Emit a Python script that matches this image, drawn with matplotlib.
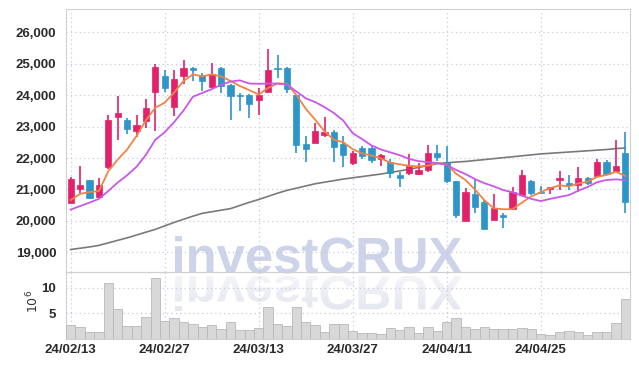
import matplotlib
matplotlib.use('Agg')
import matplotlib.pyplot as plt
import numpy as np
from matplotlib.textpath import TextPath
from matplotlib.patches import PathPatch
from matplotlib.font_manager import FontProperties
from matplotlib.transforms import Affine2D

# ---------------- data ----------------
tick_labels = ['24/02/13', '24/02/27', '24/03/13', '24/03/27', '24/04/11', '24/04/25']
tick_index = [0, 10, 20, 30, 40, 50]

opens = [20580, 21000, 21290, 20760, 21700, 23300, 23195, 22860, 23175, 24096,
         24595, 23632, 24610, 24860, 24640, 24260, 24850, 24330, 24010, 24000,
         23860, 24110, 24860, 24870, 24010, 22460, 22490, 22720, 22830, 22450,
         21855, 22330, 22330, 21970, 21880, 21460, 21530, 21490, 21620, 22170,
         21885, 21260, 20000, 20860, 20610, 20030, 20160, 20370, 20830, 21270,
         20930, 21010, 21290, 21210, 21140, 21350, 21440, 21870, 21590, 22150]
closes = [21320, 21130, 20720, 21130, 23210, 23430, 22920, 23060, 23580, 24890,
          24224, 24520, 24860, 24810, 24450, 24680, 24290, 23985, 23980, 23730,
          24000, 24790, 24830, 24200, 22400, 22280, 22860, 22830, 22345, 22080,
          22155, 22060, 21935, 22110, 21530, 21350, 21770, 21620, 22170, 22040,
          21260, 20175, 20915, 20450, 19740, 20400, 20150, 20930, 21460, 20900,
          20880, 21090, 21350, 21140, 21350, 21190, 21870, 21490, 21750, 20590]
highs = [21390, 21740, 21300, 21370, 23370, 23980, 23280, 23365, 23885, 24977,
         24796, 24796, 25124, 24900, 24690, 25025, 24880, 24360, 24070, 24050,
         24220, 25465, 25280, 24910, 24010, 22690, 23110, 23290, 22905, 22700,
         22220, 22380, 22380, 22130, 21960, 21560, 22120, 21830, 22400, 22400,
         22385, 21260, 21035, 21320, 20660, 20850, 20240, 21070, 21620, 21300,
         21100, 21090, 21580, 21460, 21700, 21400, 21960, 21940, 22570, 22840]
lows = [20560, 20890, 20700, 20735, 21640, 22570, 22750, 22675, 22940, 22845,
        24086, 23322, 24370, 24450, 24130, 24230, 24070, 23220, 23500, 23270,
        23370, 24105, 24550, 24070, 22160, 21870, 22480, 22680, 21870, 21720,
        21785, 21960, 21850, 21750, 21370, 21090, 21460, 21460, 21540, 21920,
        21200, 20100, 20000, 20240, 19740, 20030, 19760, 20350, 20830, 20830,
        20880, 20850, 20980, 20980, 20930, 21140, 21440, 21460, 21550, 20240]
volume_m = [2.71, 2.26, 1.29, 1.29, 10.85, 5.84, 2.46, 2.46, 4.21, 11.83,
            3.43, 4.02, 3.24, 2.85, 2.26, 2.65, 1.87, 3.2, 1.74, 1.74,
            2.07, 6.29, 2.97, 2.46, 6.29, 3.24, 2.65, 1.42, 2.97, 2.85,
            1.48, 1.22, 1.22, 1.02, 2.07, 1.68, 2.26, 1.09, 2.39, 1.5,
            3.37, 4.15, 2.39, 1.87, 2.39, 1.87, 1.87, 1.87, 2.07, 1.87,
            0.89, 0.7, 1.29, 1.48, 1.29, 0.7, 1.42, 1.29, 3.04, 7.73]
ma_short = [20660, 20860, 20915, 20950, 21580, 21950, 22270, 22700, 23200, 23600,
            23760, 24080, 24450, 24660, 24600, 24660, 24600, 24450, 24290, 24160,
            24020, 24230, 24370, 24360, 24010, 23570, 23220, 22850, 22580, 22500,
            22280, 22150, 22080, 21990, 21850, 21800, 21750, 21730, 21760, 21840,
            21800, 21500, 21300, 21000, 20660, 20400, 20370, 20370, 20580, 20780,
            20910, 21040, 21130, 21100, 21190, 21250, 21400, 21460, 21560, 21430]
ma_mid = [20360, 20470, 20580, 20700, 20950, 21220, 21450, 21720, 22100, 22580,
          22820, 23140, 23510, 23950, 24070, 24190, 24330, 24430, 24470, 24370,
          24360, 24370, 24370, 24340, 24120, 23900, 23780, 23620, 23430, 23190,
          22790, 22600, 22400, 22270, 22180, 22090, 21970, 21900, 21870, 21840,
          21780, 21620, 21490, 21330, 21200, 21100, 20980, 20910, 20800, 20700,
          20630, 20700, 20760, 20820, 20960, 21080, 21230, 21300, 21320, 21300]
ma_long = [19090, 19130, 19170, 19220, 19300, 19380, 19460, 19550, 19640, 19730,
           19840, 19950, 20050, 20150, 20240, 20290, 20340, 20390, 20490, 20590,
           20680, 20780, 20880, 20970, 21040, 21110, 21180, 21230, 21280, 21330,
           21370, 21410, 21450, 21490, 21540, 21590, 21640, 21700, 21760, 21820,
           21850, 21870, 21890, 21920, 21950, 21980, 22010, 22040, 22070, 22100,
           22130, 22150, 22170, 22190, 22210, 22230, 22250, 22270, 22300, 22320]
price_ticks = [19000, 20000, 21000, 22000, 23000, 24000, 25000, 26000]
vol_ticks = [5, 10]

# ---------------- style ----------------
UP = '#E3216B'
DOWN = '#2E95C8'
GRID = '#c7cadf'
SPINE = '#d0d0d0'
TXT = '#2b2b2b'
tick_font = dict(family=['Liberation Sans Narrow', 'Liberation Sans'],
                 weight='bold', size=9.5)

W, H = 639, 366
fig = plt.figure(figsize=(W / 100, H / 100), dpi=100)
fig.patch.set_facecolor('white')


def rect(l, t, r, b):
    return [l / W, 1 - b / H, (r - l) / W, (b - t) / H]


# background axes for the watermark (pixel coordinates, y down)
bg = fig.add_axes([0, 0, 1, 1], zorder=0)
bg.set_xlim(0, W)
bg.set_ylim(H, 0)
bg.axis('off')

fp = FontProperties(family=['Liberation Sans', 'DejaVu Sans'], weight='bold')
tp = TextPath((0, 0), 'investCRUX', size=50, prop=fp)
ext = tp.get_extents()
s = 287 / ext.width
x0, base = 175, 273
tr_main = Affine2D().translate(-ext.x0, 0).scale(s, -s).translate(x0, base)
bg.add_patch(PathPatch(tr_main.transform_path(tp), facecolor='#cdd3e9', edgecolor='none'))
tr_ref = Affine2D().translate(-ext.x0, 0).scale(s, s * 0.95).translate(x0, base + 3)
ref_path = tr_ref.transform_path(tp)
ref_patch = PathPatch(ref_path, facecolor='none', edgecolor='none')
bg.add_patch(ref_patch)
grad = np.linspace(1, 0, 100)[:, None] * np.ones((1, 10))
rgba = np.zeros((100, 10, 4))
rgba[..., 0] = 0.88
rgba[..., 1] = 0.89
rgba[..., 2] = 0.93
rgba[..., 3] = 0.35 + 0.65 * grad
im = bg.imshow(rgba, extent=(x0 - 5, x0 + 300, base + 3, base + 48), aspect='auto', zorder=1)
im.set_clip_path(ref_patch)
bg.set_xlim(0, W)
bg.set_ylim(H, 0)

# main price axes
ax = fig.add_axes(rect(66, 9.3, 630, 271.7), zorder=1)
axv = fig.add_axes(rect(66, 271.7, 630, 338.9), zorder=1, sharex=ax)
for a in (ax, axv):
    a.set_facecolor('none')
    for sp in a.spines.values():
        sp.set_color(SPINE)
        sp.set_linewidth(0.8)

x = np.arange(len(opens))
o = np.array(opens, float)
c = np.array(closes, float)
colors = [UP if cc >= oo else DOWN for oo, cc in zip(o, c)]

ax.plot(x, ma_long, color='#7a7a7a', lw=1.2, zorder=2)
ax.vlines(x, lows, highs, colors=colors, lw=1.2, zorder=3)
body_h = np.where(np.abs(c - o) < 40, 40, np.abs(c - o))
body_b = np.minimum(o, c) - np.where(np.abs(c - o) < 40, (40 - np.abs(c - o)) / 2, 0)
ax.bar(x, body_h, bottom=body_b, width=0.68, color=colors, edgecolor=colors, lw=0.5, zorder=4)
ax.plot(x, ma_short, color='#EE8447', lw=1.3, zorder=5)
ax.plot(x, ma_mid, color='#C957EA', lw=1.3, zorder=5)

ax.set_xlim(-0.5, len(x) - 0.5)
ax.set_ylim(18383, 26731)
ax.set_yticks(price_ticks)
ax.set_yticklabels([f'{v:,}' for v in price_ticks], color=TXT, **tick_font)
ax.set_xticks(tick_index)
ax.tick_params(axis='x', labelbottom=False, length=0)
ax.tick_params(axis='y', length=0, pad=7)
ax.grid(True, linestyle=(0, (1, 2.5)), color=GRID, lw=0.9)
ax.set_axisbelow(True)

# volume axes
axv.bar(x, volume_m, width=1.0, color='#d8d8d8', edgecolor='#b8b8b8', lw=0.6, zorder=3)
axv.set_ylim(0, 13.1)
axv.set_yticks(vol_ticks)
axv.set_yticklabels([str(v) for v in vol_ticks], color=TXT, **tick_font)
axv.set_xticks(tick_index)
axv.set_xticklabels(tick_labels, color=TXT, **tick_font)
axv.tick_params(axis='both', length=0)
axv.tick_params(axis='y', pad=7)
axv.tick_params(axis='x', pad=4)
axv.grid(True, linestyle=(0, (1, 2.5)), color=GRID, lw=0.9)
axv.set_axisbelow(True)
fig.text(33 / W, 1 - 301 / H, '10$^6$', rotation=90, ha='center', va='center',
         fontsize=9, color='#333333', family='DejaVu Sans')

fig.savefig('out.png', dpi=100)
